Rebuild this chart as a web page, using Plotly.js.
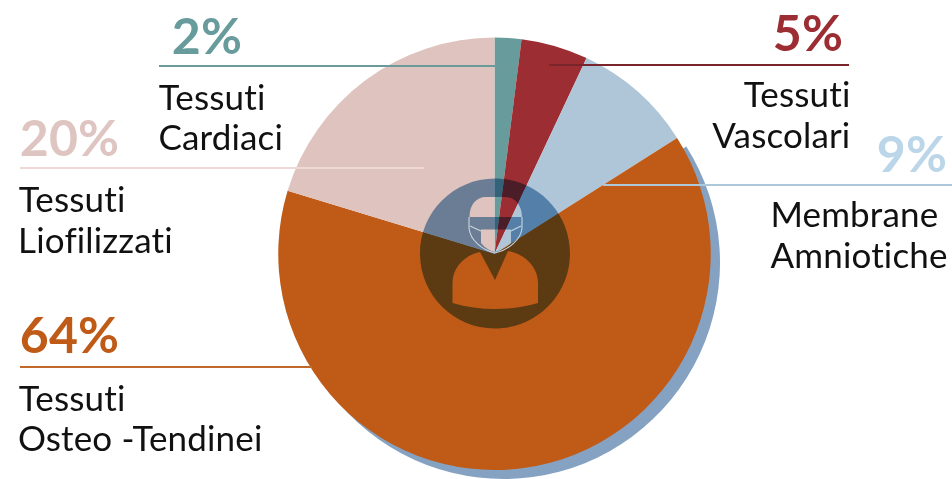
<!DOCTYPE html>
<html>
<head>
<meta charset="utf-8">
<script src="https://cdn.plot.ly/plotly-3.0.1.min.js"></script>
<style>html,body{margin:0;padding:0;background:#fff}#chart{width:952px;height:479px}#chart text{font-variant-ligatures:none !important;font-feature-settings:"liga" 0,"clig" 0,"dlig" 0,"calt" 0 !important;letter-spacing:0.15px}</style>
</head>
<body>
<div id="chart"></div>
<script>
const categories = ["Tessuti Cardiaci", "Tessuti Vascolari", "Membrane Amniotiche", "Tessuti Osteo -Tendinei", "Tessuti Liofilizzati"];
const values = [2, 5, 9, 63.7, 20.3];
const sliceColors = ["#689b9b", "#9c2d33", "#aec6d8", "#bf5a17", "#dfc3bf"];
const shadowColors = ["rgba(0,0,0,0)", "rgba(0,0,0,0)", "rgba(0,0,0,0)", "#86a2c2", "rgba(0,0,0,0)"];
const percentColors = ["#689b9b", "#9c2d33", "#bad6e8", "#dfc5c1", "#bf5a17"];
const percentTexts = ["2%", "5%", "9%", "20%", "64%"];
const percentPos = [[171, 35, "left"], [844, 32, "right"], [876, 153, "left"], [19, 137, "left"], [19, 334, "left"]];
const labelTexts = ["Tessuti", "Cardiaci", "Tessuti", "Vascolari", "Membrane", "Amniotiche", "Tessuti", "Liofilizzati", "Tessuti", "Osteo -Tendinei"];
const labelPos = [[158, 96, "left"], [158, 136, "left"], [851, 93, "right"], [851, 134, "right"], [770, 213, "left"], [770, 254, "left"], [18, 198, "left"], [18, 239, "left"], [18, 397, "left"], [18, 437, "left"]];
const leaderLines = [[159, 66, 505, "#6a9a9a"], [549, 65, 849, "#7a2529"], [603, 185, 952, "#aec8db"], [20, 168, 424, "#eed9d5"], [20, 367, 312, "#c1682b"]];

const W = 952, H = 479;
const px = s => s.replace(/(-?[\d.]+),(-?[\d.]+)/g, (m, x, y) => (x / W).toFixed(5) + "," + (1 - y / H).toFixed(5));
const pieDomain = (l, r, t, b) => ({x: [l / W, r / W], y: [1 - b / H, 1 - t / H]});

const disc = "M420,253.5 C420,212.1 453.6,178.5 495,178.5 C536.4,178.5 570,212.1 570,253.5 C570,294.9 536.4,328.5 495,328.5 C453.6,328.5 420,294.9 420,253.5 Z";
const headTop = "M469.5,217 C469.5,205 476,197 486,197 L505,197 C515,197 522,205 522,217 Z";
const mask = "M481,229.5 L511,229.5 L511,243 C506,248 500,251 495,252 C490,251 485,248 481,243 Z";
const torso = "M452.5,303 L452.5,283 C452.5,267 465,255 480,252 L495,280 L508,251 C525,254 538,267 538,283 L538,303 C510,311 480,311 452.5,303 Z";
const jaw = "M469,217 L469,228 C470,240 482,250 495,253 C508,250 521,240 522,228 L522,217";

const shapes = [
  {type: "path", xref: "paper", yref: "paper", path: px(disc + " " + headTop + " " + mask + " " + torso), fillcolor: "#7aa3c7", fillrule: "evenodd", line: {width: 0}, layer: "above"},
  {type: "path", xref: "paper", yref: "paper", path: px(jaw), line: {color: "#c9d4de", width: 1.1}, layer: "above"},
  {type: "path", xref: "paper", yref: "paper", path: px("M470,226 L481,231"), line: {color: "#c9d4de", width: 1.1}, layer: "above"},
  {type: "path", xref: "paper", yref: "paper", path: px("M521,226 L511,231"), line: {color: "#c9d4de", width: 1.1}, layer: "above"}
].concat(leaderLines.map(l => ({
  type: "line", xref: "paper", yref: "paper", x0: l[0] / W, x1: l[2] / W, y0: 1 - l[1] / H, y1: 1 - l[1] / H,
  line: {color: l[3], width: 2}, layer: "above"
})));

const annotations = percentTexts.map((t, i) => ({
  text: "<b>" + t + "</b>", xref: "paper", yref: "paper", x: percentPos[i][0] / W, y: 1 - percentPos[i][1] / H,
  xanchor: percentPos[i][2], yanchor: "middle", showarrow: false, borderpad: 0,
  font: {family: "Lato", size: 50, color: percentColors[i]}
})).concat(labelTexts.map((t, i) => ({
  text: t, xref: "paper", yref: "paper", x: labelPos[i][0] / W, y: 1 - labelPos[i][1] / H,
  xanchor: labelPos[i][2], yanchor: "middle", showarrow: false, borderpad: 0,
  font: {family: "Lato", size: 35, color: "#111111"}
})));

const base = {type: "pie", labels: categories, values: values, sort: false, direction: "clockwise", rotation: 0, textinfo: "none", hoverinfo: "skip", automargin: false};
const data = [
  Object.assign({}, base, {domain: pieDomain(287, 720, 46, 479), marker: {colors: shadowColors, line: {width: 0}}}),
  Object.assign({}, base, {domain: pieDomain(278, 711, 37.5, 470), marker: {colors: sliceColors, line: {width: 0}}})
];
const layout = {width: W, height: H, margin: {l: 0, r: 0, t: 0, b: 0}, paper_bgcolor: "#ffffff", showlegend: false, shapes: shapes, annotations: annotations};
Plotly.newPlot("chart", data, layout, {staticPlot: true, displayModeBar: false}).then(gd => {
  const overlay = gd.querySelector('.shapelayer path[data-index="0"]');
  if (overlay) overlay.style.mixBlendMode = "multiply";
});
</script>
</body>
</html>
